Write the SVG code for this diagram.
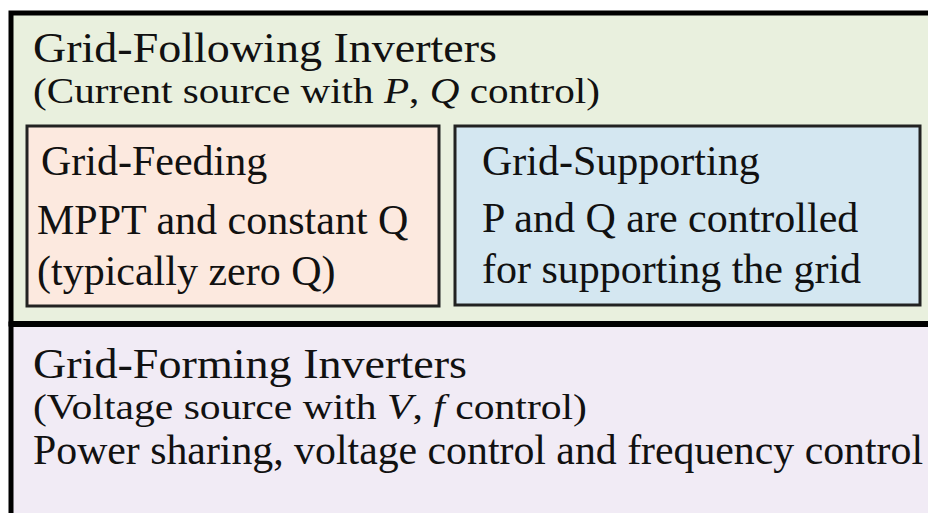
<svg xmlns="http://www.w3.org/2000/svg" width="928" height="513" viewBox="0 0 928 513">
<style>
text{font-family:"Liberation Serif","Times New Roman",serif;fill:#111}
.title{font-size:42px}
.sub{font-size:36px}
.body{font-size:42px}
.inner{stroke:#222;stroke-width:3}
</style>
<rect x="0" y="0" width="928" height="513" fill="#ffffff"/>
<g id="grid-following">
<rect x="11" y="13" width="930" height="311" fill="#e9f0de" stroke="#000" stroke-width="5"/>
<text class="title" x="33" y="62" textLength="464" lengthAdjust="spacingAndGlyphs">Grid-Following Inverters</text>
<text class="sub" x="33" y="103" textLength="567" lengthAdjust="spacingAndGlyphs">(Current source with <tspan font-style="italic">P</tspan>, <tspan font-style="italic">Q</tspan> control)</text>
</g>
<g id="grid-feeding">
<rect class="inner" x="27" y="126" width="412" height="180" fill="#fce9df"/>
<text class="body" x="41" y="175">Grid-Feeding</text>
<text class="body" x="37" y="234">MPPT and constant Q</text>
<text class="body" x="37" y="285">(typically zero Q)</text>
</g>
<g id="grid-supporting">
<rect class="inner" x="455" y="126" width="465" height="179" fill="#d4e7f1"/>
<text class="body" x="482" y="175">Grid-Supporting</text>
<text class="body" x="482" y="232">P and Q are controlled</text>
<text class="body" x="482" y="283">for supporting the grid</text>
</g>
<g id="grid-forming">
<rect x="11" y="324" width="930" height="200" fill="#f1ebf5" stroke="#000" stroke-width="5"/>
<line x1="11" y1="324" x2="941" y2="324" stroke="#000" stroke-width="6"/>
<text class="title" x="33" y="378" textLength="434" lengthAdjust="spacingAndGlyphs">Grid-Forming Inverters</text>
<text class="sub" x="33" y="419" textLength="554" lengthAdjust="spacingAndGlyphs">(Voltage source with <tspan font-style="italic">V</tspan>, <tspan font-style="italic">f</tspan> control)</text>
<text class="body" x="33" y="464" textLength="890" lengthAdjust="spacingAndGlyphs">Power sharing, voltage control and frequency control</text>
</g>
<g id="connectors"/>
</svg>
